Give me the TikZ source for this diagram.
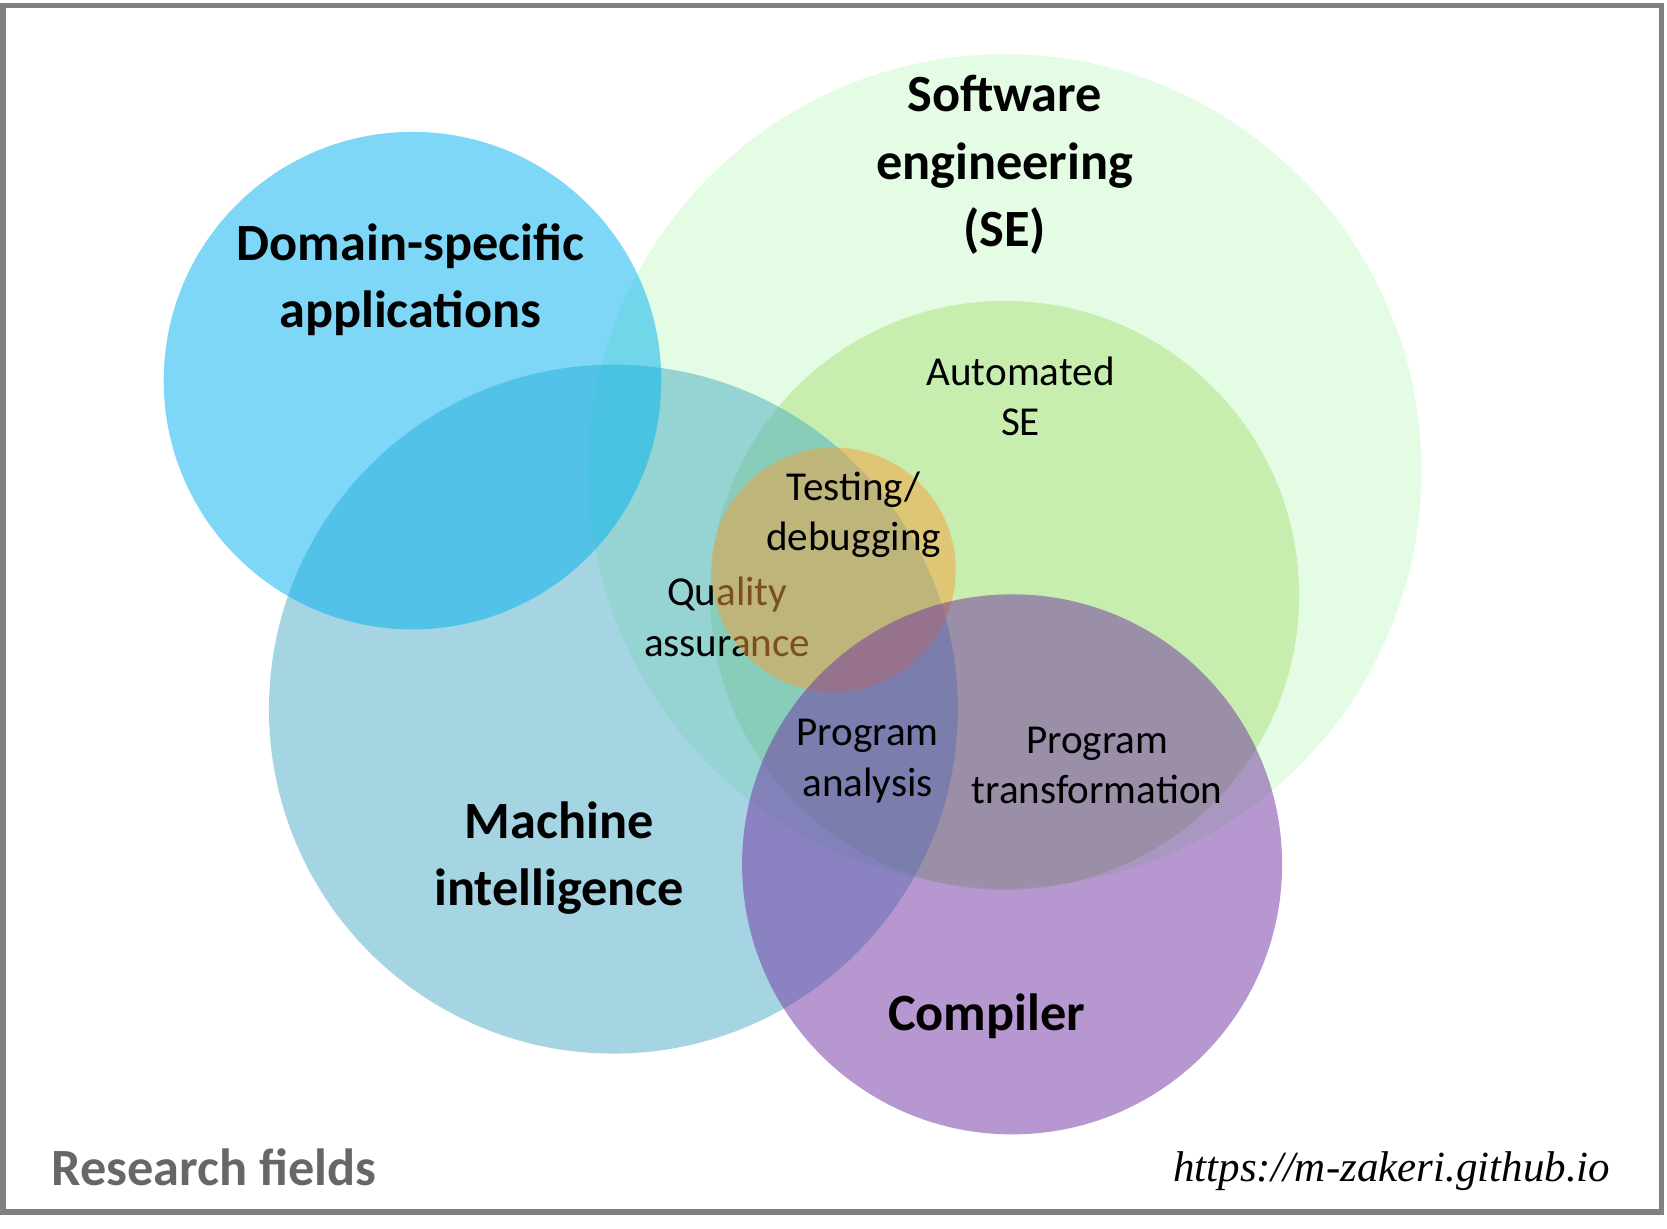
\documentclass[tikz,border=0pt]{standalone}
\usepackage{fontspec}
\setmainfont{Carlito}
\newfontfamily\urlfont{Liberation Serif}
\definecolor{cDom}{RGB}{0,176,240}
\definecolor{cSE}{RGB}{200,250,200}
\definecolor{cASE}{RGB}{146,208,80}
\definecolor{cMI}{RGB}{75,172,198}
\definecolor{cTest}{RGB}{247,160,60}
\definecolor{cComp}{RGB}{112,48,160}
\definecolor{frameg}{RGB}{128,128,128}
\begin{document}
\begin{tikzpicture}[x=0.01cm,y=-0.01cm,
  circ/.style={fill opacity=0.5},
  big/.style={font=\fontsize{14}{18}\selectfont\bfseries,align=center,text=black},
  small/.style={font=\fontsize{11}{13.5}\selectfont,align=center,text=black}]
\useasboundingbox (0,0) rectangle (1568,1156);
\draw[frameg,line width=1.5pt] (3,5) rectangle (1563,1140);
\fill[cSE,circ] (945,443) circle (392);
\fill[cASE,circ,fill opacity=0.35] (945,560) circle (277);
\fill[cMI,circ] (577,667) circle (324);
\fill[cDom,circ] (388,358) circle (234);
\node[small] (qa) at (684,580) {Quality\\assurance};
\fill[cTest,circ] (784,536) circle (115);
\fill[cComp,circ] (952,813) circle (254);
\node[big] (se) at (945,155) {Software\\engineering\\(SE)};
\node[big] (dom) at (386,263) {Domain-specific\\applications};
\node[small] (ase) at (960,373) {Automated\\SE};
\node[small] (tst) at (803,484) {Testing/\\debugging};
\node[small] (pa) at (816,716) {Program\\analysis};
\node[small] (pt) at (1032,720) {Program\\transformation};
\node[big] (mi) at (526,807) {Machine\\intelligence};
\node[big] (comp) at (928,956) {Compiler};
\node[font=\fontsize{14}{16}\selectfont\bfseries,text=frameg!80!black,anchor=west] (rf) at (36,1098) {Research fields};
\node[font=\urlfont\itshape\fontsize{11.5}{13}\selectfont,anchor=east] (url) at (1527,1102) {https://m-zakeri.github.io};
\end{tikzpicture}
\end{document}
